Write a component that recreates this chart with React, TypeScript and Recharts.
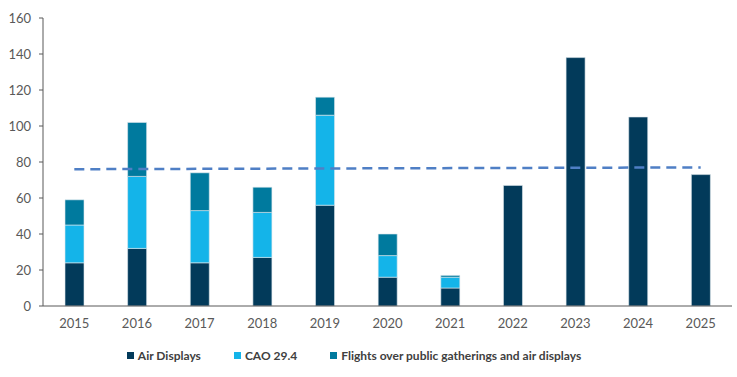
import React from 'react';
import { ComposedChart, Bar, Line, XAxis, YAxis, Legend } from 'recharts';

const years = ['2015', '2016', '2017', '2018', '2019', '2020', '2021', '2022', '2023', '2024', '2025'];
const airDisplays = [24, 32, 24, 27, 56, 16, 10, 67, 138, 105, 73];
const cao294 = [21, 40, 29, 25, 50, 12, 6, 0, 0, 0, 0];
const flightsOver = [14, 30, 21, 14, 10, 12, 1, 0, 0, 0, 0];
// trend line: only end points, drawn straight between them
const trend = [76, null, null, null, null, null, null, null, null, null, 77];
const yTicks = [0, 20, 40, 60, 80, 100, 120, 140, 160];

const data = years.map((year, i) => ({
  year,
  air: airDisplays[i],
  cao: cao294[i],
  flights: flightsOver[i],
  trend: trend[i],
}));

const series = [
  { key: 'air', name: 'Air Displays', color: '#023A5A' },
  { key: 'cao', name: 'CAO 29.4', color: '#14B4E9' },
  { key: 'flights', name: 'Flights over public gatherings and air displays', color: '#007A9E' },
];

const font = 'Lato, "Noto Sans", sans-serif';

function LegendContent() {
  return (
    <div style={{ display: 'flex', justifyContent: 'center', gap: 33, paddingRight: 24, fontFamily: font, fontSize: 12, fontWeight: 700, color: '#404040' }}>
      {series.map((s) => (
        <span key={s.key} style={{ display: 'inline-flex', alignItems: 'center' }}>
          <span style={{ width: 7, height: 7, background: s.color, marginRight: 4, display: 'inline-block' }} />
          {s.name}
        </span>
      ))}
    </div>
  );
}

export default function App() {
  return (
    <div style={{ position: 'absolute', left: 0, top: 0, background: '#fff' }}>
      <ComposedChart width={737} height={377} data={data} margin={{ top: 18, right: 5, left: 0, bottom: 9 }}>
        <XAxis
          dataKey="year"
          axisLine={{ stroke: '#595959' }}
          tickLine={false}
          tickSize={6}
          tickMargin={7}
          height={42}
          tick={{ fill: '#595959', fontSize: 13, fontFamily: font }}
        />
        <YAxis
          width={43}
          domain={[0, 160]}
          ticks={yTicks}
          interval={0}
          axisLine={{ stroke: '#595959' }}
          tickLine={{ stroke: '#595959' }}
          tickSize={4}
          tickMargin={8}
          tick={{ fill: '#595959', fontSize: 13, fontFamily: font }}
        />
        <Legend verticalAlign="bottom" height={20} content={<LegendContent />} />
        {series.map((s) => (
          <Bar
            key={s.key}
            dataKey={s.key}
            name={s.name}
            stackId="a"
            fill={s.color}
            stroke="#dfe7ed"
            strokeWidth={0.6}
            barSize={19}
            isAnimationActive={false}
          />
        ))}
        <Line
          dataKey="trend"
          stroke="#4F7FC5"
          strokeWidth={2.5}
          strokeDasharray="10 6"
          dot={false}
          connectNulls
          legendType="none"
          isAnimationActive={false}
        />
      </ComposedChart>
    </div>
  );
}
